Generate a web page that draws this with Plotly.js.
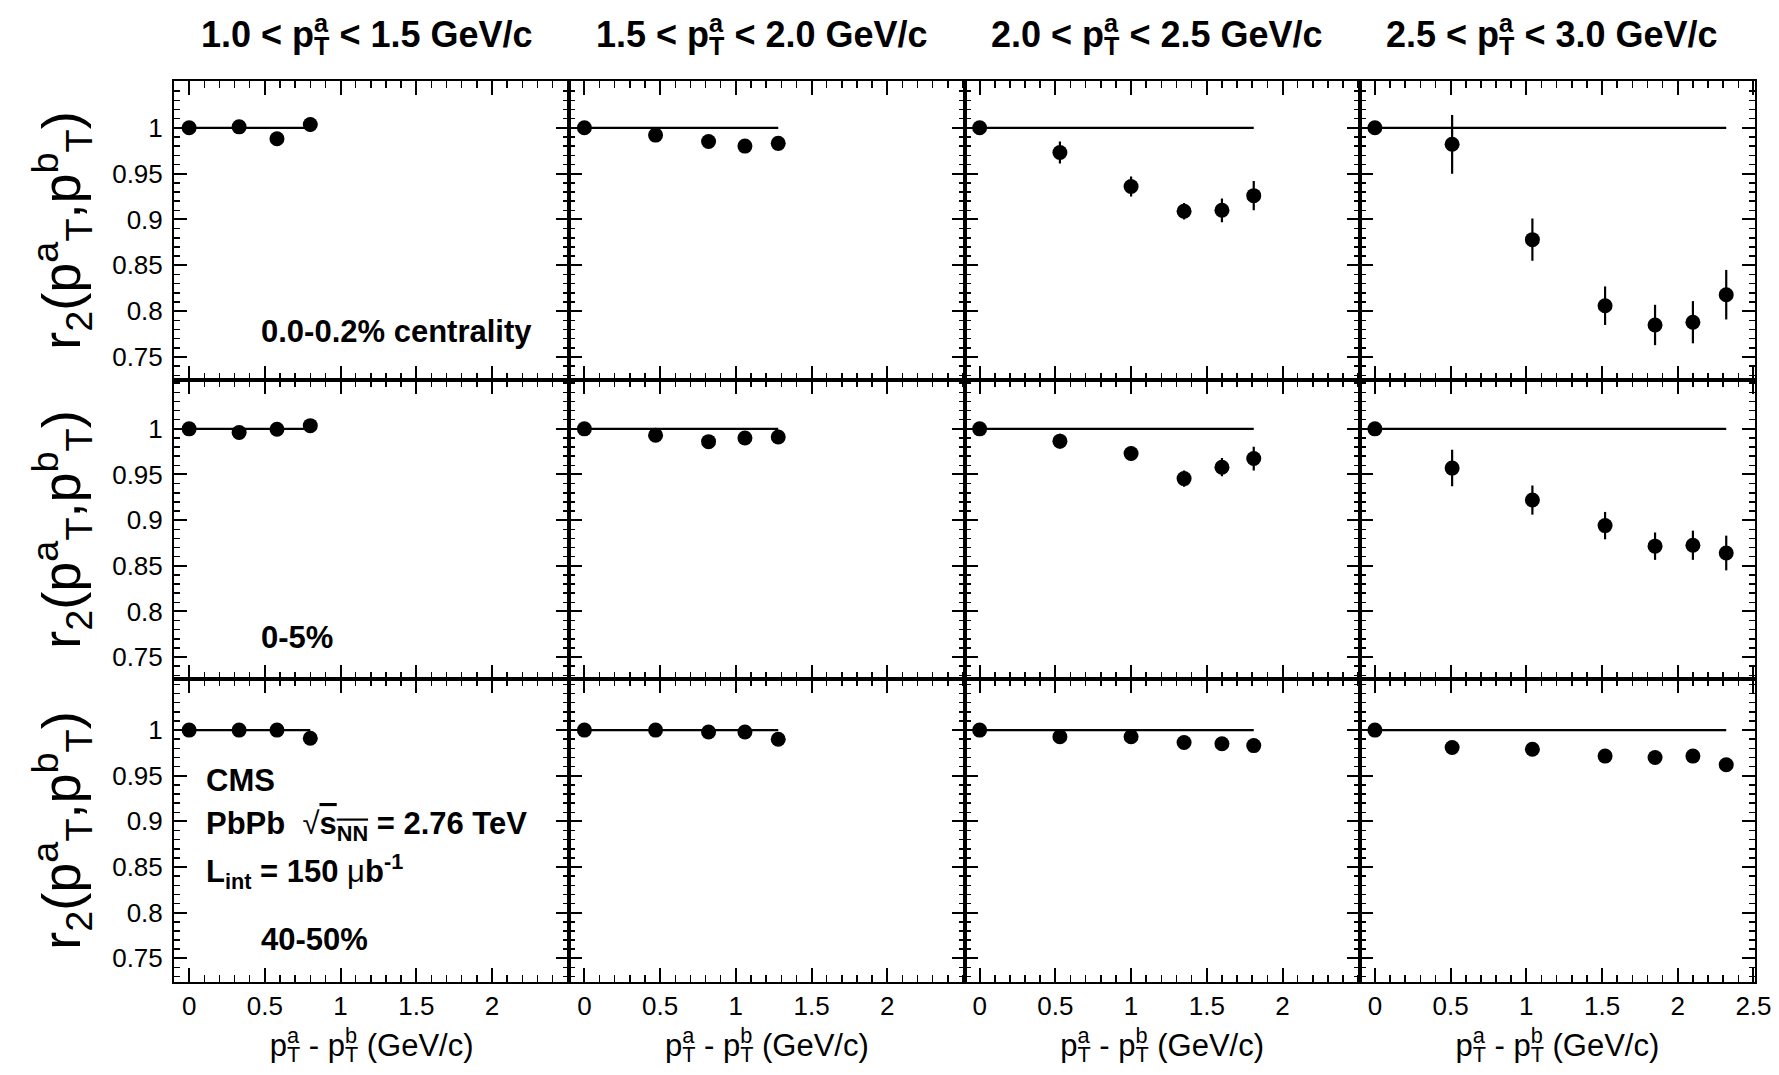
<!DOCTYPE html>
<html>
<head>
<meta charset="utf-8">
<script src="https://cdn.plot.ly/plotly-3.0.1.min.js"></script>
<style>html,body{margin:0;padding:0;background:#fff;}</style>
</head>
<body>
<div id="chart" style="width:1779px;height:1075px;"></div>
<script>
// ---------------- DATA ----------------
// pT^a bins (column headers)
const ptaLow  = ['1.0', '1.5', '2.0', '2.5'];
const ptaHigh = ['1.5', '2.0', '2.5', '3.0'];
// centrality classes (rows)
const centralityLabels = ['0.0-0.2% centrality', '0-5%', '40-50%'];

// x: pT^a - pT^b (GeV/c), per pT^a bin
const dpt_bin1 = [0, 0.33, 0.58, 0.80];
const dpt_bin2 = [0, 0.47, 0.82, 1.06, 1.28];
const dpt_bin3 = [0, 0.53, 1.00, 1.35, 1.60, 1.81];
const dpt_bin4 = [0, 0.51, 1.04, 1.52, 1.85, 2.10, 2.32];

// r2 values: 0.0-0.2% centrality
const r2_cent0_bin1 = [1.000, 1.001, 0.988, 1.0035];
const r2_cent0_bin2 = [1.000, 0.992, 0.985, 0.980, 0.983];
const r2_cent0_bin3 = [1.000, 0.973, 0.936, 0.909, 0.910, 0.926];
const r2_cent0_bin4 = [1.000, 0.982, 0.878, 0.806, 0.785, 0.788, 0.818];
const err_cent0_bin1 = [0, 0.002, 0.002, 0.008];
const err_cent0_bin2 = [0, 0.003, 0.003, 0.004, 0.008];
const err_cent0_bin3 = [0, 0.012, 0.011, 0.009, 0.013, 0.016];
const err_cent0_bin4 = [0, 0.032, 0.023, 0.021, 0.022, 0.023, 0.027];

// r2 values: 0-5% centrality
const r2_cent1_bin1 = [1.000, 0.996, 0.9995, 1.0035];
const r2_cent1_bin2 = [1.000, 0.993, 0.986, 0.990, 0.991];
const r2_cent1_bin3 = [1.000, 0.9865, 0.973, 0.9455, 0.958, 0.9675];
const r2_cent1_bin4 = [1.000, 0.957, 0.922, 0.894, 0.8715, 0.8725, 0.864];
const err_cent1_bin1 = [0, 0.002, 0.002, 0.006];
const err_cent1_bin2 = [0, 0.002, 0.002, 0.003, 0.006];
const err_cent1_bin3 = [0, 0.008, 0.008, 0.009, 0.010, 0.013];
const err_cent1_bin4 = [0, 0.020, 0.016, 0.015, 0.015, 0.016, 0.019];

// r2 values: 40-50% centrality
const r2_cent2_bin1 = [1.000, 1.000, 1.000, 0.991];
const r2_cent2_bin2 = [1.000, 1.000, 0.998, 0.998, 0.990];
const r2_cent2_bin3 = [1.000, 0.9927, 0.9927, 0.9865, 0.985, 0.983];
const r2_cent2_bin4 = [1.000, 0.981, 0.979, 0.9715, 0.970, 0.9715, 0.962];
const err_cent2_bin1 = [0, 0.001, 0.001, 0.002];
const err_cent2_bin2 = [0, 0.001, 0.001, 0.001, 0.002];
const err_cent2_bin3 = [0, 0.002, 0.002, 0.002, 0.002, 0.003];
const err_cent2_bin4 = [0, 0.002, 0.002, 0.002, 0.002, 0.003, 0.003];

// factorization reference level
const refLevel = 1;

// tick labels
const xTickVals = [0, 0.5, 1, 1.5, 2];
const xTickValsLast = [0, 0.5, 1, 1.5, 2, 2.5];
const yTickVals = [0.75, 0.8, 0.85, 0.9, 0.95, 1];

// ---------------- ASSEMBLY ----------------
const dptBins = [dpt_bin1, dpt_bin2, dpt_bin3, dpt_bin4];
const r2Rows = [
  [r2_cent0_bin1, r2_cent0_bin2, r2_cent0_bin3, r2_cent0_bin4],
  [r2_cent1_bin1, r2_cent1_bin2, r2_cent1_bin3, r2_cent1_bin4],
  [r2_cent2_bin1, r2_cent2_bin2, r2_cent2_bin3, r2_cent2_bin4]
];
const errRows = [
  [err_cent0_bin1, err_cent0_bin2, err_cent0_bin3, err_cent0_bin4],
  [err_cent1_bin1, err_cent1_bin2, err_cent1_bin3, err_cent1_bin4],
  [err_cent2_bin1, err_cent2_bin2, err_cent2_bin3, err_cent2_bin4]
];

const W = 1779, H = 1075;
const colEdges = [174, 569.25, 964.5, 1359.75, 1755];
const rowEdges = [81, 380, 679, 982];
const rowRanges = [[0.725, 1.051], [0.726, 1.0535], [0.724, 1.056]];
const FONT = 'Liberation Sans, Arial, Helvetica, sans-serif';

// stacked super/subscript (sup over sub) using negative letter-spacing
function stack(sup, sub, fs, em) {
  const w = (em || 0.556) * 0.7 * fs;
  return '<sup style="letter-spacing:-' + w.toFixed(1) + 'px">' + sup + '</sup><sub>' + sub + '</sub>';
}

const traces = [];
const layout = {
  width: W, height: H,
  margin: {l: 0, r: 0, t: 0, b: 0},
  paper_bgcolor: '#fff', plot_bgcolor: '#fff',
  showlegend: false,
  font: {family: FONT, color: '#000'},
  annotations: []
};

const xTitleText = 'p' + stack('a', 'T', 31) + ' - p' + stack('b', 'T', 31) + ' (GeV/c)';
const yTitleText = 'r<sub>2</sub>(p<sup>a</sup><sub>T</sub>,p<sup>b</sup><sub>T</sub>)';

for (let r = 0; r < 3; r++) {
  for (let c = 0; c < 4; c++) {
    const idx = r * 4 + c + 1;
    const xs = dptBins[c];
    const ys = r2Rows[r][c];
    const es = errRows[r][c];
    const xa = 'x' + idx, ya = 'y' + idx;
    traces.push({
      x: [xs[0], xs[xs.length - 1]], y: [refLevel, refLevel],
      xaxis: xa, yaxis: ya, mode: 'lines', hoverinfo: 'skip',
      line: {color: '#000', width: 2.2}
    });
    traces.push({
      x: xs, y: ys, xaxis: xa, yaxis: ya, mode: 'markers',
      marker: {symbol: 'circle', size: 15, color: '#000'},
      error_y: {type: 'data', array: es, visible: true, color: '#000', thickness: 2.2, width: 0}
    });
    const xName = 'xaxis' + idx, yName = 'yaxis' + idx;
    layout[xName] = {
      domain: [colEdges[c] / W, colEdges[c + 1] / W],
      anchor: ya, range: [-0.1, 2.51],
      tickmode: 'array', tickvals: c === 3 ? xTickValsLast : xTickVals,
      ticks: 'inside', ticklen: 14, tickwidth: 2, tickcolor: '#000',
      minor: {ticks: 'inside', tickmode: 'linear', tick0: 0, dtick: 0.1, ticklen: 7, tickwidth: 1.5, tickcolor: '#000'},
      showline: true, linecolor: '#000', linewidth: 2, mirror: 'allticks',
      showgrid: false, zeroline: false,
      showticklabels: r === 2, ticklabelstandoff: 0,
      tickfont: {family: FONT, size: 26, color: '#000'},
      fixedrange: true
    };
    if (r === 2) {
      layout[xName].title = {text: xTitleText, font: {family: FONT, size: 31, color: '#000'}, standoff: 14};
    }
    layout[yName] = {
      domain: [1 - rowEdges[r + 1] / H, 1 - rowEdges[r] / H],
      anchor: xa, range: rowRanges[r],
      tickmode: 'array', tickvals: yTickVals,
      ticks: 'inside', ticklen: 13, tickwidth: 2, tickcolor: '#000',
      minor: {ticks: 'inside', tickmode: 'linear', tick0: 0.75, dtick: 0.01, ticklen: 6, tickwidth: 1.5, tickcolor: '#000'},
      showline: true, linecolor: '#000', linewidth: 2, mirror: 'allticks',
      showgrid: false, zeroline: false,
      showticklabels: c === 0, ticklabelstandoff: 4,
      tickfont: {family: FONT, size: 26, color: '#000'},
      fixedrange: true
    };
    if (c === 0) {
      layout[yName].title = {text: yTitleText, font: {family: FONT, size: 54, color: '#000'}, standoff: 14};
    }
  }
}

// column headers
for (let c = 0; c < 4; c++) {
  layout.annotations.push({
    xref: 'paper', yref: 'paper',
    x: (colEdges[c] + colEdges[c + 1]) / 2 / W - 5 / W, y: 1 - 34 / H,
    xanchor: 'center', yanchor: 'middle', showarrow: false,
    text: '<b>' + ptaLow[c] + ' &lt; p' + stack('a', 'T', 36) + ' &lt; ' + ptaHigh[c] + ' GeV/c</b>',
    font: {family: FONT, size: 36, color: '#000'}
  });
}

// in-panel labels
const lblFont = {family: FONT, size: 31, color: '#000'};
function lbl(axisIdx, x, y, text) {
  layout.annotations.push({
    xref: 'x' + axisIdx, yref: 'y' + axisIdx, x: x, y: y,
    xanchor: 'left', yanchor: 'middle', showarrow: false,
    text: text, font: lblFont
  });
}
lbl(1, 0.46, 0.778, '<b>' + centralityLabels[0] + '</b>');
lbl(5, 0.46, 0.771, '<b>' + centralityLabels[1] + '</b>');
lbl(9, 0.10, 0.945, '<b>CMS</b>');
lbl(9, 0.10, 0.895, '<b>PbPb</b>  √<span style="text-decoration:overline"><b>s<sub>NN</sub></b></span><b> = 2.76 TeV</b>');
lbl(9, 0.10, 0.845, '<b>L<sub>int</sub> = 150 </b>μ<b>b<sup>-1</sup></b>');
lbl(9, 0.46, 0.771, '<b>' + centralityLabels[2] + '</b>');

Plotly.newPlot('chart', traces, layout, {staticPlot: true, displayModeBar: false});
</script>
</body>
</html>
